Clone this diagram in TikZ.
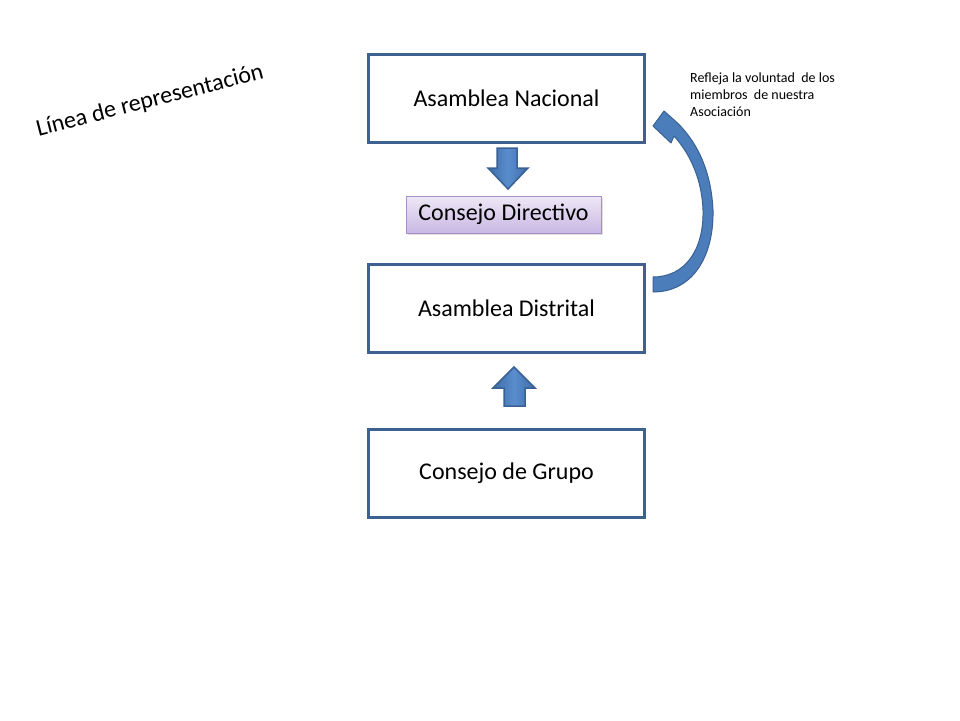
\documentclass[tikz,border=0pt]{standalone}
\usepackage{fontspec}
\setmainfont{Carlito}
\usetikzlibrary{shadows}
\definecolor{boxline}{HTML}{3D6190}
\definecolor{arrowfill}{HTML}{4A7DBA}
\definecolor{arrowedge}{HTML}{3F6DA8}
\definecolor{arrowmid}{HTML}{5A8DCD}
\definecolor{arrowline}{HTML}{3A6194}
\definecolor{lavtop}{HTML}{EEE8F6}
\definecolor{lavbot}{HTML}{C9B7E3}
\definecolor{lavline}{HTML}{A48FC6}
\tikzset{
  levelbox/.style={draw=boxline, line width=3pt, fill=white, minimum width=276pt, minimum height=88pt, inner sep=0pt, font=\fontsize{24}{29}\selectfont},
  blockarrow/.style={draw=arrowline, line width=1.5pt, line join=miter, left color=arrowedge, right color=arrowedge, middle color=arrowmid},
  curvearrow/.style={fill=arrowfill, draw=arrowline, line width=1pt, line join=round},
  councilbox/.style={draw=lavline, line width=1pt, top color=lavtop, bottom color=lavbot, minimum width=195pt, minimum height=37pt, inner sep=0pt, font=\fontsize{24}{29}\selectfont, drop shadow={opacity=0.25, shadow xshift=1.5pt, shadow yshift=-1.5pt}},
}
\begin{document}
\begin{tikzpicture}[x=1pt,y=-1pt]
\useasboundingbox[fill=white] (0,0) rectangle (960,720);
% level boxes
\node[levelbox] (nac) at (506.5,98) {Asamblea Nacional};
\node[levelbox] (dis) at (506.5,308) {Asamblea Distrital};
\node[levelbox] (gru) at (506.5,473) {Consejo de Grupo};
% council box
\node[councilbox] (dir) at (503.5,214.5) {Consejo Directivo};
% down block arrow
\path[blockarrow] (497,148) -- (517,148) -- (517,168) -- (528,168) -- (508,189) -- (488,168) -- (497,168) -- cycle;
% up block arrow
\path[blockarrow] (514,367) -- (535,388) -- (525,388) -- (525,406) -- (504,406) -- (504,388) -- (493,388) -- cycle;
% curved arrow
\path[curvearrow]
  (653,292) .. controls (693,292) and (714,256) .. (713,210)
  .. controls (711,168) and (695,138) .. (673,119)
  -- (664,111) -- (653,126) -- (671,143) -- (674,136)
  .. controls (692,156) and (702,182) .. (703,210)
  .. controls (704,250) and (685,277) .. (653,277) -- cycle;
% texts
\node[font=\fontsize{24}{29}\selectfont, rotate=14.5] (linea) at (150,101) {Línea de representación};
\node[font=\fontsize{14}{17}\selectfont, align=left, anchor=north west, inner sep=0pt] (nota) at (690,73) {Refleja la voluntad~ de los\\miembros~ de nuestra\\Asociación};
\end{tikzpicture}
\end{document}
